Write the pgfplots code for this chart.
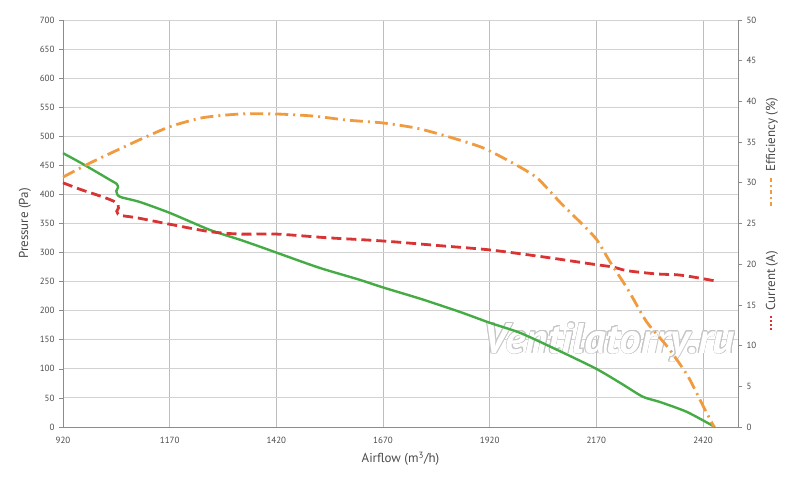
\documentclass[border=0pt]{standalone}
\usepackage{fontspec}
\setmainfont{PT Sans}
\usepackage{pgfplots}
\pgfplotsset{compat=1.18}
\usepackage{contour}
\contourlength{0.7pt}
\contournumber{16}
\definecolor{cgreen}{HTML}{45AC45}
\definecolor{cred}{HTML}{D83434}
\definecolor{corange}{HTML}{F09B3F}
\definecolor{gridv}{HTML}{BDBDBD}
\definecolor{gridh}{HTML}{D2D2D2}
\definecolor{txt}{HTML}{4A4A4A}
\definecolor{axc}{HTML}{8C8C8C}
\begin{document}
\begin{tikzpicture}[x=1bp,y=1bp]
\useasboundingbox (0,0) rectangle (800,482);
\pgfplotsset{
  common/.style={
    at={(63bp,55bp)}, anchor=south west, scale only axis,
    width=675bp, height=407bp,
    xmin=920, xmax=2502,
    /pgf/number format/assume math mode=true,
    /pgf/number format/1000 sep={},
    tick label style={font=\fontsize{9}{10}\selectfont, text=txt},
    label style={font=\fontsize{13}{15}\selectfont, text=txt},
    axis line style={axc, line width=0.8bp},
    tick style={axc, line width=0.6bp},
    tick align=outside, major tick length=4bp,
  }
}
\begin{axis}[common,
  ymin=0, ymax=700,
  xtick={920,1170,1420,1670,1920,2170,2420},
  ytick={0,50,...,700},
  axis x line*=bottom, axis y line*=left,
  x tick style={draw=none},
  xmajorgrids, ymajorgrids,
  x grid style={gridv, line width=0.8bp},
  y grid style={gridh, line width=0.9bp},
  xticklabel style={yshift=-3bp},
  yticklabel style={xshift=-1bp},
  xlabel={Airflow (m\textsuperscript{3}/h)},
  ylabel={Pressure (Pa)},
  xlabel style={yshift=-1bp},
  ylabel style={yshift=2bp},
  clip=false,
]
\node[font=\bfseries\itshape\fontsize{43}{45}\selectfont, anchor=center, inner sep=0pt]
  at (axis cs:2200,145) {\contour{gray!45}{\textcolor{white}{Ventilatorry.ru}}};
\addplot[cgreen, line width=2.4bp, smooth, tension=0.4] coordinates {
(920,471) (960,455) (1000,438) (1030,425) (1046,418) (1049,412) (1045,406)
(1048,399) (1057,395) (1100,387) (1171,368) (1264,339) (1335,322) (1382,310)
(1420,300) (1520,274) (1616,253) (1670,240) (1760,220) (1850,198) (1921,179)
(1991,162) (2080,132) (2170,100) (2230,74) (2279,52) (2319,43) (2382,26) (2448,0)
};
\end{axis}
\begin{axis}[common,
  ymin=0, ymax=50,
  ytick={0,5,...,50},
  axis x line=none, axis y line*=right,
  yticklabel style={xshift=1bp},
  clip=false,
]
\addplot[cred, line width=2.8bp, dash pattern=on 10bp off 5bp, smooth, tension=0.5] coordinates {
(920,30.0) (960,29.2) (1000,28.5) (1022,28.1) (1040,27.7) (1049,27.3) (1050,26.9)
(1046,26.5) (1049,26.15) (1060,25.95) (1093,25.7) (1171,24.9) (1264,24.0) (1335,23.7) (1420,23.7)
(1539,23.25) (1670,22.85) (1797,22.3) (1921,21.75) (2045,20.9) (2162,20.0)
(2209,19.65) (2242,19.2) (2312,18.8) (2359,18.7) (2400,18.4) (2453,17.9)
};
\addplot[corange, line width=2.8bp, dash pattern=on 13bp off 5bp on 2bp off 5bp, smooth, tension=0.4] coordinates {
(920,30.7) (990,32.6) (1100,35.3) (1171,36.9) (1248,38.0) (1335,38.45) (1421,38.45)
(1506,38.2) (1586,37.7) (1670,37.35) (1750,36.7) (1827,35.6) (1904,34.3)
(1975,32.4) (2031,30.6) (2085,27.6) (2143,24.6) (2171,23.0) (2202,20.3)
(2245,16.8) (2288,12.9) (2339,9.7) (2385,6.2) (2421,2.5) (2446,0)
};
\node[rotate=90, anchor=west, font=\fontsize{13}{15}\selectfont, text=txt, inner sep=0pt]
  at ([xshift=34bp]rel axis cs:1,0.235) {\tikz[baseline=-0.6ex]\draw[cred, line width=2.2bp, dash pattern=on 2.5bp off 1.5bp] (0,0)--(15bp,0);\ Current (A)};
\node[rotate=90, anchor=west, font=\fontsize{13}{15}\selectfont, text=txt, inner sep=0pt]
  at ([xshift=34bp]rel axis cs:1,0.54) {\tikz[baseline=-0.6ex]{\draw[corange, line width=2bp, dash pattern=on 4bp off 3bp on 2bp off 3bp] (0,0)--(30bp,0);}\ Efficiency (\%)};
\end{axis}
\end{tikzpicture}
\end{document}
